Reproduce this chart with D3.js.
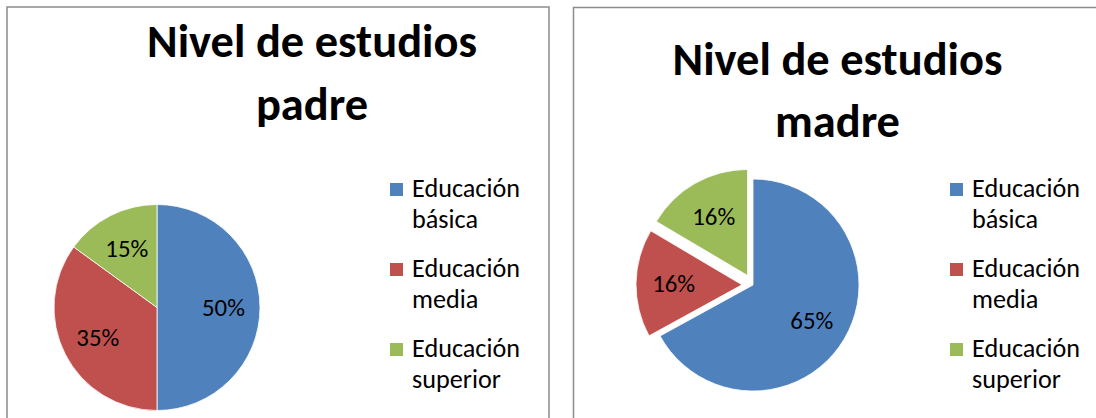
<!DOCTYPE html>
<html>
<head>
<meta charset="utf-8">
<script src="https://cdn.jsdelivr.net/npm/d3@7"></script>
<style>
  body { margin: 0; background: #fff; }
  svg { display: block; font-family: Carlito, Calibri, Lato, "Noto Sans", sans-serif; }
</style>
</head>
<body>
<div id="chart"></div>
<script>
// data
const categories = ["Educación básica", "Educación media", "Educación superior"];
const padreValues = [50, 35, 15];
const madreValues = [65, 16, 16];
const titlePadre = ["Nivel de estudios", "padre"];
const titleMadre = ["Nivel de estudios", "madre"];
const colors = ["#4F81BD", "#C0504D", "#9BBB59"];

const width = 1096, height = 418;

const panels = [
  {box: {x: 7, y: 7, w: 542, h: 440}, title: titlePadre, values: padreValues,
   titleX: 312, titleY: [57, 120], cx: 157, cy: 307.5, r: 103, explode: [0, 0, 0],
   legendX: 390},
  {box: {x: 573.5, y: 7.5, w: 600, h: 440}, title: titleMadre, values: madreValues,
   titleX: 837.5, titleY: [75, 137], cx: 753, cy: 285, r: 106, explode: [0, 11, 11],
   legendX: 950}
];

const svg = d3.select("#chart").append("svg")
  .attr("width", width)
  .attr("height", height);

// scale a font so the text gets the wanted width
const fitFont = (sel, target) => {
  sel.style("font-size", "40px");
  const w = sel.node().getComputedTextLength();
  const size = 40 * target / w;
  sel.style("font-size", size + "px");
  return size;
};

const pct = d3.format(".0%");
const pie = d3.pie().sort(null).value(d => d);

panels.forEach(p => {
  const g = svg.append("g");

  g.append("rect")
    .attr("x", p.box.x).attr("y", p.box.y)
    .attr("width", p.box.w).attr("height", p.box.h)
    .attr("fill", "#fff")
    .attr("stroke", "#8c8c8c")
    .attr("stroke-width", 1.5);

  // title
  const t1 = g.append("text")
    .attr("x", p.titleX).attr("y", p.titleY[0])
    .attr("text-anchor", "middle")
    .attr("font-weight", "bold")
    .attr("fill", "#000")
    .text(p.title[0]);
  const tSize = fitFont(t1, 330);
  g.append("text")
    .attr("x", p.titleX).attr("y", p.titleY[1])
    .attr("text-anchor", "middle")
    .attr("font-weight", "bold")
    .attr("fill", "#000")
    .style("font-size", tSize + "px")
    .text(p.title[1]);

  // pie
  const arcs = pie(p.values);
  const arc = d3.arc().innerRadius(0).outerRadius(p.r);
  const labelArc = d3.arc().innerRadius(p.r * 0.645).outerRadius(p.r * 0.645);

  const slices = g.append("g")
    .attr("transform", `translate(${p.cx},${p.cy})`)
    .selectAll("g")
    .data(arcs)
    .enter().append("g")
    .attr("transform", (d, i) => {
      const a = (d.startAngle + d.endAngle) / 2;
      const off = p.explode[i];
      return `translate(${Math.sin(a) * off},${-Math.cos(a) * off})`;
    });

  slices.append("path")
    .attr("d", arc)
    .attr("fill", (d, i) => colors[i])
    .attr("stroke", "#fff")
    .attr("stroke-width", 0.8);

  const labels = slices.append("text")
    .attr("transform", d => `translate(${labelArc.centroid(d)})`)
    .attr("text-anchor", "middle")
    .attr("dy", "0.35em")
    .attr("fill", "#000")
    .text(d => pct(d.data / 100));
  const lSize = fitFont(d3.select(labels.nodes()[0]), 43);
  labels.style("font-size", lSize + "px");

  // legend
  const rowStep = 80, lineStep = 31, firstBase = 197;
  const items = g.selectAll(".legend")
    .data(categories)
    .enter().append("g")
    .attr("class", "legend")
    .attr("transform", (d, i) => `translate(${p.legendX},${firstBase + i * rowStep})`);

  items.append("rect")
    .attr("x", 0).attr("y", -14)
    .attr("width", 13).attr("height", 13)
    .attr("fill", (d, i) => colors[i]);

  const txt = items.append("text")
    .attr("x", 22).attr("y", 0)
    .attr("fill", "#000");
  txt.append("tspan")
    .attr("x", 22).attr("dy", 0)
    .text(d => d.split(" ")[0]);
  txt.append("tspan")
    .attr("x", 22).attr("dy", lineStep)
    .text(d => d.split(" ").slice(1).join(" "));

  const first = txt.select("tspan");
  const gSize = fitFont(first, 108);
  txt.style("font-size", gSize + "px");
  txt.selectAll("tspan").style("font-size", null);
});
</script>
</body>
</html>
